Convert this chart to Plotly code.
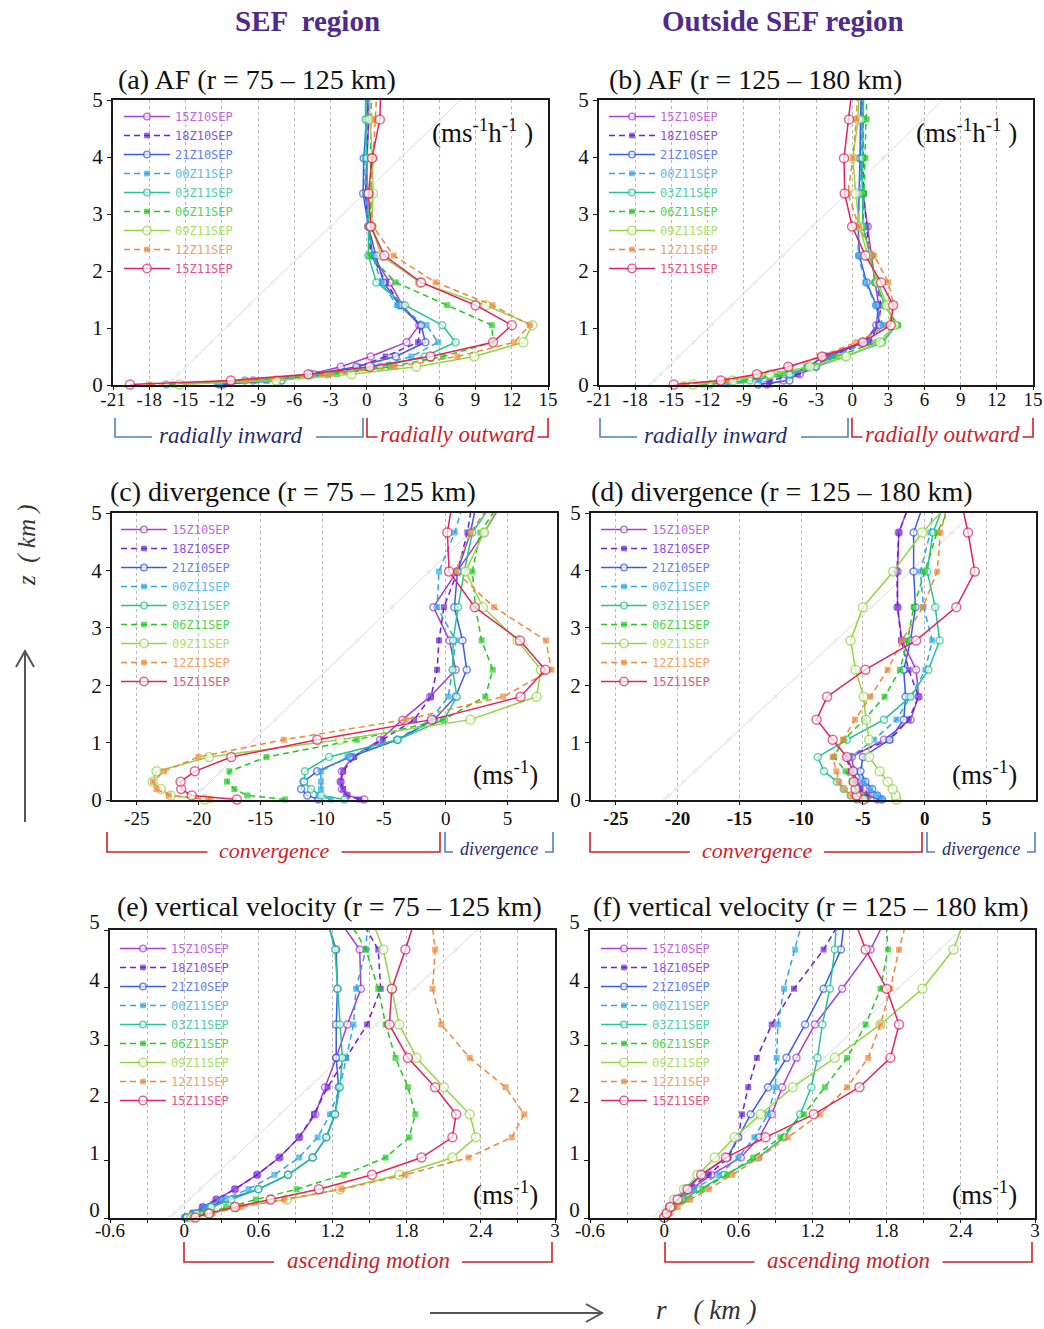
import plotly.graph_objects as go

W, H = 1044, 1329

# model levels (km) shared by every profile
levels = [0.01, 0.08, 0.19, 0.32, 0.5, 0.75, 1.05, 1.4, 1.8, 2.27, 2.78, 3.36, 3.98, 4.66, 5.4]
times = ["15Z10SEP", "18Z10SEP", "21Z10SEP", "00Z11SEP", "03Z11SEP",
         "06Z11SEP", "09Z11SEP", "12Z11SEP", "15Z11SEP"]

# (a) agradient force, r = 75-125 km  (m s-1 h-1)
af_sef = {
    "15Z10SEP": [-11.9, -9.4, -4.7, -2.15, 0.33, 3.3, 4.35, 2.95, 1.9, 0.5, 0.14, -0.08, 0.03, 0.2, 0.3],
    "18Z10SEP": [-11.9, -8.3, -3.9, -0.7, 1.55, 4.25, 4.45, 2.8, 1.6, 0.4, 0.14, -0.1, 0.0, 0.14, 0.3],
    "21Z10SEP": [-12.2, -7.05, -4.4, -0.85, 2.4, 4.85, 4.5, 2.7, 1.4, 0.75, 0.14, -0.3, -0.25, 0.03, 0.25],
    "00Z11SEP": [-12.4, -8.3, -3.6, 0.5, 3.7, 5.9, 4.95, 2.5, 1.2, 0.47, 0.14, -0.14, -0.17, -0.08, 0.0],
    "03Z11SEP": [-16.6, -10.1, -3.3, 1.1, 4.8, 7.35, 6.25, 3.15, 0.8, 0.14, 0.14, 0.1, 0.0, -0.1, -0.1],
    "06Z11SEP": [-16.0, -9.1, -2.5, 1.9, 6.3, 10.45, 10.35, 6.65, 2.4, 0.2, 0.25, 0.36, 0.3, 0.3, 0.4],
    "09Z11SEP": [-15.5, -7.5, -1.27, 4.1, 8.9, 12.95, 13.7, 9.85, 4.4, 1.2, 0.4, 0.52, 0.47, 0.25, 0.2],
    "12Z11SEP": [-18.0, -10.0, -3.1, 2.3, 7.5, 12.2, 13.5, 10.4, 5.7, 2.23, 0.52, 0.3, 0.52, 0.66, 0.9],
    "15Z11SEP": [-19.6, -11.25, -4.83, 0.25, 5.27, 10.45, 12.0, 9.0, 4.5, 1.46, 0.33, 0.14, 0.44, 1.08, 1.2],
}

# (b) agradient force, r = 125-180 km
af_out = {
    "15Z10SEP": [-7.1, -5.7, -4.35, -3.0, -2.0, 1.05, 2.0, 2.2, 1.9, 1.6, 1.3, 0.9, 0.7, 0.7, 0.9],
    "18Z10SEP": [-6.9, -6.8, -4.5, -3.0, -1.9, 1.45, 2.15, 2.4, 2.0, 1.45, 1.2, 0.95, 0.9, 0.85, 0.9],
    "21Z10SEP": [-7.8, -5.2, -5.05, -3.7, -2.3, 0.85, 2.3, 2.0, 1.2, 0.6, 0.5, 0.6, 0.65, 0.7, 0.8],
    "00Z11SEP": [-10.4, -7.7, -5.2, -3.2, -1.6, 1.2, 2.55, 1.95, 1.1, 0.5, 0.5, 0.65, 0.75, 0.8, 0.9],
    "03Z11SEP": [-11.8, -8.5, -5.2, -3.0, -0.55, 2.5, 3.7, 2.7, 2.0, 1.45, 0.9, 0.85, 0.85, 0.9, 1.0],
    "06Z11SEP": [-12.4, -9.0, -6.0, -3.8, -1.3, 2.0, 3.8, 2.7, 1.9, 1.6, 0.9, 1.0, 1.1, 1.2, 1.25],
    "09Z11SEP": [-13.2, -9.9, -6.8, -3.5, -0.5, 2.3, 3.5, 2.85, 2.15, 1.3, 0.6, 0.3, 0.05, 0.5, 0.6],
    "12Z11SEP": [-14.0, -10.4, -7.7, -5.2, -2.7, 0.35, 3.0, 3.45, 3.0, 1.8, 0.55, -0.35, 0.05, 0.35, 0.5],
    "15Z11SEP": [-14.8, -10.9, -7.9, -5.3, -2.5, 0.9, 3.2, 3.4, 2.4, 1.1, 0.0, -0.62, -0.68, -0.26, 0.1],
}

# (c) divergence, r = 75-125 km  (m s-1)
div_sef = {
    "15Z10SEP": [-6.6, -8.0, -8.4, -8.5, -8.4, -7.55, -5.3, -3.5, -1.27, 0.8, 0.3, -1.0, 0.9, 3.1, 5.2],
    "18Z10SEP": [-7.0, -8.0, -8.3, -8.5, -8.3, -7.4, -5.1, -2.55, -1.2, -0.7, -0.55, -0.15, 0.95, 1.75, 2.3],
    "21Z10SEP": [-10.3, -11.2, -11.7, -11.5, -10.4, -7.75, -3.9, -0.95, 0.8, 1.7, 1.35, 0.7, 0.95, 2.0, 2.7],
    "00Z11SEP": [-9.3, -10.3, -10.1, -10.1, -10.1, -7.95, -4.0, -1.2, 0.2, 0.55, 0.8, -0.7, -0.55, 0.73, 1.75],
    "03Z11SEP": [-8.2, -10.1, -10.9, -11.45, -11.4, -9.45, -3.9, -0.15, 0.9, 0.55, 0.6, 1.0, 1.5, 2.15, 4.5],
    "06Z11SEP": [-13.0, -16.05, -17.1, -17.7, -17.5, -14.5, -7.2, -0.2, 3.2, 3.8, 2.9, 2.4, 2.15, 2.8, 5.0],
    "09Z11SEP": [-19.5, -22.25, -23.05, -23.7, -23.4, -19.15, -8.55, 2.0, 7.35, 7.7, 5.8, 3.0, 1.6, 3.1, 5.0],
    "12Z11SEP": [-19.0, -22.4, -23.4, -23.7, -22.8, -20.0, -13.1, -3.25, 4.65, 8.55, 8.1, 3.9, 0.8, 2.0, 4.4],
    "15Z11SEP": [-16.9, -20.55, -21.4, -21.45, -20.3, -17.35, -10.4, -1.13, 6.05, 8.05, 6.0, 2.35, 0.27, 0.13, 0.7],
}

# (d) divergence, r = 125-180 km
div_out = {
    "15Z10SEP": [-3.85, -4.55, -4.95, -5.5, -5.75, -5.9, -3.3, -1.15, -0.5, -0.7, -1.85, -2.2, -2.2, -2.1, -0.8],
    "18Z10SEP": [-3.6, -4.65, -5.2, -5.6, -6.0, -6.35, -2.8, -1.3, -0.5, -1.3, -1.9, -2.2, -2.25, -2.1, -0.8],
    "21Z10SEP": [-3.45, -3.85, -4.25, -4.8, -5.2, -5.0, -2.85, -1.7, -1.55, -1.7, -1.15, -0.75, -0.9, -0.9, 0.3],
    "00Z11SEP": [-3.45, -3.85, -4.4, -4.95, -5.6, -6.0, -4.1, -2.3, -1.15, 0.05, 0.6, -0.1, -0.35, 0.45, 0.8],
    "03Z11SEP": [-5.5, -6.0, -6.55, -7.1, -8.15, -8.65, -6.3, -3.3, -1.15, 0.3, 1.2, 0.85, 0.2, 0.67, 2.0],
    "06Z11SEP": [-4.65, -5.05, -5.5, -5.9, -6.4, -7.35, -6.55, -4.9, -3.25, -2.0, -1.4, -0.9, 0.0, 1.0, 2.75],
    "09Z11SEP": [-2.3, -2.35, -2.6, -3.0, -3.65, -4.5, -4.5, -4.75, -4.95, -5.6, -6.0, -5.0, -2.55, -0.2, 3.0],
    "12Z11SEP": [-5.5, -6.0, -6.55, -6.95, -7.15, -7.45, -6.6, -5.65, -4.4, -3.0, -1.85, -0.15, 1.0, 1.27, 2.14],
    "15Z11SEP": [-4.95, -5.5, -5.6, -5.75, -5.8, -6.3, -7.45, -8.75, -7.9, -4.8, -0.7, 2.55, 4.05, 3.5, 2.74],
}

# (e) vertical velocity, r = 75-125 km  (m s-1)
w_sef = {
    "15Z10SEP": [0.01, 0.07, 0.15, 0.26, 0.41, 0.59, 0.77, 0.93, 1.06, 1.14, 1.23, 1.32, 1.43, 1.42, 1.18],
    "18Z10SEP": [0.005, 0.07, 0.15, 0.26, 0.41, 0.59, 0.77, 0.93, 1.05, 1.16, 1.31, 1.48, 1.59, 1.57, 1.37],
    "21Z10SEP": [0.02, 0.1, 0.21, 0.34, 0.6, 0.84, 1.04, 1.15, 1.22, 1.25, 1.23, 1.23, 1.24, 1.23, 1.12],
    "00Z11SEP": [0.01, 0.07, 0.17, 0.31, 0.52, 0.73, 0.93, 1.08, 1.18, 1.26, 1.31, 1.37, 1.39, 1.47, 1.49],
    "03Z11SEP": [0.02, 0.1, 0.22, 0.38, 0.6, 0.84, 1.04, 1.15, 1.22, 1.26, 1.28, 1.26, 1.24, 1.22, 1.13],
    "06Z11SEP": [0.05, 0.17, 0.34, 0.58, 0.91, 1.29, 1.63, 1.82, 1.87, 1.81, 1.71, 1.63, 1.57, 1.47, 1.27],
    "09Z11SEP": [0.06, 0.21, 0.42, 0.83, 1.26, 1.74, 2.17, 2.36, 2.31, 2.1, 1.88, 1.74, 1.68, 1.61, 1.48],
    "12Z11SEP": [0.07, 0.23, 0.46, 0.81, 1.27, 1.79, 2.3, 2.65, 2.75, 2.6, 2.31, 2.08, 2.01, 2.03, 1.99],
    "15Z11SEP": [0.09, 0.2, 0.41, 0.7, 1.09, 1.52, 1.92, 2.17, 2.2, 2.03, 1.81, 1.66, 1.68, 1.79, 1.9],
}

# (f) vertical velocity, r = 125-180 km
w_out = {
    "15Z10SEP": [0.0, 0.03, 0.06, 0.13, 0.22, 0.38, 0.62, 0.77, 0.87, 0.955, 1.07, 1.22, 1.44, 1.67, 1.84],
    "18Z10SEP": [0.0, 0.02, 0.05, 0.1, 0.19, 0.36, 0.52, 0.6, 0.63, 0.68, 0.75, 0.87, 1.05, 1.29, 1.49],
    "21Z10SEP": [0.0, 0.02, 0.04, 0.09, 0.17, 0.3, 0.51, 0.6, 0.7, 0.84, 0.99, 1.14, 1.29, 1.43, 1.47],
    "00Z11SEP": [0.0, 0.02, 0.05, 0.13, 0.24, 0.44, 0.6, 0.73, 0.84, 0.9, 0.91, 0.92, 0.97, 1.06, 1.15],
    "03Z11SEP": [0.0, 0.03, 0.07, 0.15, 0.29, 0.49, 0.76, 0.97, 1.1, 1.19, 1.24, 1.28, 1.34, 1.38, 1.4],
    "06Z11SEP": [0.0, 0.03, 0.09, 0.18, 0.31, 0.51, 0.72, 0.94, 1.13, 1.3, 1.48, 1.63, 1.75, 1.81, 1.79],
    "09Z11SEP": [0.0, 0.02, 0.05, 0.08, 0.16, 0.27, 0.41, 0.57, 0.78, 1.04, 1.38, 1.75, 2.09, 2.34, 2.47],
    "12Z11SEP": [0.01, 0.05, 0.11, 0.21, 0.36, 0.55, 0.77, 1.0, 1.26, 1.48, 1.65, 1.75, 1.83, 1.9, 1.99],
    "15Z11SEP": [0.0, 0.02, 0.05, 0.11, 0.19, 0.3, 0.5, 0.82, 1.21, 1.58, 1.83, 1.9, 1.8, 1.63, 1.5],
}

# faint background reference profile in each panel
ref_af_sef = [-16.45, -16.1, -15.6, -14.95, -14.1, -12.9, -11.4, -9.7, -7.8, -5.5, -3.0, -0.2, 2.8, 6.1, 9.7]
ref_af_out = [-16.75, -16.4, -15.9, -15.25, -14.4, -13.15, -11.7, -10.0, -8.05, -5.75, -3.3, -0.45, 2.55, 5.85, 9.45]
ref_div_sef = [-20.55, -20.2, -19.7, -19.05, -18.2, -16.95, -15.5, -13.8, -11.9, -9.6, -7.15, -4.35, -1.35, 1.95, 5.55]
ref_div_out = [-21.05, -20.7, -20.15, -19.5, -18.6, -17.35, -15.85, -14.1, -12.1, -9.75, -7.2, -4.3, -1.2, 2.2, 5.9]
ref_w_sef = [-0.115, -0.08, -0.025, 0.04, 0.13, 0.255, 0.405, 0.58, 0.775, 1.01, 1.265, 1.555, 1.86, 2.2, 2.57]
ref_w_out = [-0.085, -0.05, 0.005, 0.07, 0.16, 0.285, 0.435, 0.61, 0.805, 1.04, 1.295, 1.585, 1.89, 2.23, 2.6]

# tick values / labels
af_ticks = [-21, -18, -15, -12, -9, -6, -3, 0, 3, 6, 9, 12, 15]
af_ticklabels = ["-21", "-18", "-15", "-12", "-9", "-6", "-3", "0", "3", "6", "9", "12", "15"]
div_ticks = [-25, -20, -15, -10, -5, 0, 5]
div_ticklabels = ["-25", "-20", "-15", "-10", "-5", "0", "5"]
w_ticks = [-0.6, 0, 0.6, 1.2, 1.8, 2.4, 3]
w_ticklabels = ["-0.6", "0", "0.6", "1.2", "1.8", "2.4", "3"]
z_ticks = [0, 1, 2, 3, 4, 5]

# ---------------------------------------------------------------- styling
colors = ["#a63fd2", "#6c22d6", "#3a5ae8", "#2ea6e8", "#26c290",
          "#22c922", "#93d645", "#f0883a", "#e0245f"]
dashed = [False, True, False, True, False, True, False, True, False]
circle_size = [7, 7, 7, 7, 7, 7, 9, 7, 9]
SERIF = "Liberation Serif"


def lighten(hex_color, f=0.25):
    r, g, b = (int(hex_color[i:i + 2], 16) for i in (1, 3, 5))
    r, g, b = (round(c + (255 - c) * f) for c in (r, g, b))
    return f"#{r:02x}{g:02x}{b:02x}"


def px(x):
    """pixel column -> paper fraction"""
    return x / W


def py(y):
    """pixel row -> paper fraction"""
    return 1 - y / H


fig = go.Figure()

panels = [
    dict(data=af_sef, ref=ref_af_sef, box=(113, 100, 548, 385), xr=[-21, 15],
         ticks=af_ticks, labels=af_ticklabels, minor=None, bold=False, standoff=-7, yshift=0,
         title="(a) AF (r = 75 – 125 km)", tpos=(116, 80), leg=(119, 102),
         unit="(ms<sup>-1</sup>h<sup>-1</sup> )", upos=(482, 131)),
    dict(data=af_out, ref=ref_af_out, box=(599, 100, 1033, 385), xr=[-21, 15],
         ticks=af_ticks, labels=af_ticklabels, minor=None, bold=False, standoff=-7, yshift=0,
         title="(b) AF (r = 125 – 180 km)", tpos=(607, 80), leg=(604, 102),
         unit="(ms<sup>-1</sup>h<sup>-1</sup> )", upos=(966, 131)),
    dict(data=div_sef, ref=ref_div_sef, box=(112, 513, 557, 800), xr=[-27, 9],
         ticks=div_ticks, labels=div_ticklabels, minor=None, bold=False, standoff=-3, yshift=0,
         title="(c) divergence (r = 75 – 125 km)", tpos=(108, 491), leg=(116, 515),
         unit="(ms<sup>-1</sup>)", upos=(505, 773)),
    dict(data=div_out, ref=ref_div_out, box=(591, 513, 1036, 800), xr=[-27, 9],
         ticks=div_ticks, labels=div_ticklabels, minor=None, bold=True, standoff=-3, yshift=0,
         title="(d) divergence (r = 125 – 180 km)", tpos=(589, 491), leg=(596, 515),
         unit="(ms<sup>-1</sup>)", upos=(984, 773)),
    dict(data=w_sef, ref=ref_w_sef, box=(110, 930, 555, 1218), xr=[-0.6, 3],
         ticks=w_ticks, labels=w_ticklabels, minor=0.3, bold=False, standoff=-9, yshift=-8,
         title="(e) vertical velocity (r = 75 – 125 km)", tpos=(115, 907), leg=(115, 934),
         unit="(ms<sup>-1</sup>)", upos=(505, 1193)),
    dict(data=w_out, ref=ref_w_out, box=(590, 930, 1035, 1218), xr=[-0.6, 3],
         ticks=w_ticks, labels=w_ticklabels, minor=0.3, bold=False, standoff=-9, yshift=-8,
         title="(f) vertical velocity (r = 125 – 180 km)", tpos=(591, 907), leg=(596, 934),
         unit="(ms<sup>-1</sup>)", upos=(984, 1193)),
]

annotations = []
layout_axes = {}

for i, p in enumerate(panels, start=1):
    sfx = "" if i == 1 else str(i)
    xa, ya = f"x{sfx}", f"y{sfx}"
    legend_id = "legend" if i == 1 else f"legend{i}"
    x0, y0, x1, y1 = p["box"]

    # faint reference profile
    fig.add_trace(go.Scatter(
        x=p["ref"], y=levels, xaxis=xa, yaxis=ya, mode="lines+markers",
        line=dict(color="#dcdcdc", width=1),
        marker=dict(symbol="circle", size=[3] * (len(levels) - 1) + [0], color="white",
                    line=dict(color="#d0d0d0", width=0.8)),
        showlegend=False, hoverinfo="skip", cliponaxis=False))

    for k, t in enumerate(times):
        c = colors[k]
        n = len(levels)
        if dashed[k]:
            marker = dict(symbol="square", size=[6] * (n - 1) + [0], color=c,
                          line=dict(width=0))
            line = dict(color=c, width=1.5, dash="6px,4px")
        else:
            marker = dict(symbol="circle", size=[circle_size[k]] * (n - 1) + [0],
                          color="white", line=dict(color=c, width=1.5))
            line = dict(color=c, width=1.5)
        fig.add_trace(go.Scatter(
            x=p["data"][t], y=levels, xaxis=xa, yaxis=ya, mode="lines+markers",
            name=f"<span style='color:{lighten(c, 0.22)}'>{t}</span>",
            line=line, marker=marker, legend=legend_id, cliponaxis=False))

    xaxis = dict(
        domain=[px(x0), px(x1)], anchor=ya, range=p["xr"],
        tickmode="array", tickvals=p["ticks"], ticktext=p["labels"],
        showline=True, linecolor="#1a1a1a", linewidth=2, mirror=True,
        ticks="outside", ticklen=3, tickcolor="#1a1a1a",
        ticklabelstandoff=p["standoff"],
        showgrid=True, gridcolor="#b8b8b8", griddash="dot", gridwidth=1,
        zeroline=False, fixedrange=True, automargin=False,
        tickfont=dict(family=SERIF, size=19, color="#111",
                      weight="bold" if p["bold"] else "normal"),
    )
    if p["minor"]:
        xaxis["minor"] = dict(dtick=p["minor"], tick0=0, showgrid=True, gridcolor="#b8b8b8",
                              griddash="dot", ticks="outside", ticklen=3, tickcolor="#1a1a1a")
    yaxis = dict(
        domain=[py(y1), py(y0)], anchor=xa, range=[0, 5],
        tickmode="array", tickvals=z_ticks,
        showline=True, linecolor="#1a1a1a", linewidth=2, mirror=True,
        ticks="outside", ticklen=4, tickcolor="#1a1a1a",
        ticklabelshift=p["yshift"],
        showgrid=False, zeroline=False, fixedrange=True, automargin=False,
        tickfont=dict(family=SERIF, size=21, color="#111"),
    )
    layout_axes[f"xaxis{sfx}"] = xaxis
    layout_axes[f"yaxis{sfx}"] = yaxis

    lx, ly = p["leg"]
    layout_axes[legend_id] = dict(
        x=px(lx), y=py(ly), xanchor="left", yanchor="top",
        bgcolor="rgba(0,0,0,0)", borderwidth=0, itemwidth=46,
        font=dict(family="DejaVu Sans Mono", size=12, color="#888"),
        tracegroupgap=0,
    )

    tx, ty = p["tpos"]
    annotations.append(dict(text=p["title"], x=px(tx), y=py(ty), xref="paper", yref="paper",
                            xanchor="left", yanchor="middle", showarrow=False,
                            font=dict(family=SERIF, size=28, color="#111")))
    ux, uy = p["upos"]
    annotations.append(dict(text=p["unit"], x=px(ux), y=py(uy), xref="paper", yref="paper",
                            xanchor="center", yanchor="middle", showarrow=False,
                            font=dict(family=SERIF, size=27, color="#111")))

# column headers
for text, cx in (("SEF  region", 307), ("Outside SEF region", 783)):
    annotations.append(dict(text=f"<b>{text}</b>", x=px(cx), y=py(21), xref="paper", yref="paper",
                            showarrow=False, xanchor="center", yanchor="middle",
                            font=dict(family=SERIF, size=29, color="#4e2a8c")))

BLUE_LINE, BLUE_TEXT = "#4f7fc4", "#1f2c6c"
RED = "#cc2229"
shapes = []


def bracket(xl, xr, ytop, ybot, gap_l, gap_r, color, width=1.6):
    path = (f"M {px(xl)},{py(ytop)} L {px(xl)},{py(ybot)} L {px(gap_l)},{py(ybot)} "
            f"M {px(gap_r)},{py(ybot)} L {px(xr)},{py(ybot)} L {px(xr)},{py(ytop)}")
    shapes.append(dict(type="path", path=path, xref="paper", yref="paper",
                       line=dict(color=color, width=width)))


def label(text, cx, cy, color, size):
    annotations.append(dict(text=f"<i>{text}</i>", x=px(cx), y=py(cy), xref="paper", yref="paper",
                            showarrow=False, xanchor="center", yanchor="middle",
                            font=dict(family=SERIF, size=size, color=color)))


# AF brackets
for left, zero, right in ((115, 365, 548), (600, 850, 1033)):
    c_in = left + 115
    bracket(left, zero - 2, 418, 437, c_in - 78, c_in + 86, BLUE_LINE)
    label("radially inward", c_in, 435, BLUE_TEXT, 23)
    mid_out = (zero + 2 + right) / 2
    bracket(zero + 2, right, 418, 437, mid_out - 80, mid_out + 80, RED)
    label("radially outward", mid_out, 434, RED, 23)

# divergence brackets
for left, zero, right in ((107, 442, 553), (590, 924, 1035)):
    mid_c = (left + zero) / 2
    bracket(left, zero - 2, 832, 852, mid_c - 67, mid_c + 67, RED)
    label("convergence", mid_c, 850, RED, 22)
    mid_d = (zero + 3 + right) / 2
    bracket(zero + 3, right, 832, 852, mid_d - 46, mid_d + 46, BLUE_LINE)
    label("divergence", mid_d, 849, BLUE_TEXT, 18)

# vertical-velocity brackets
for left, right in ((184, 552), (665, 1032)):
    mid = (left + right) / 2
    bracket(left, right, 1242, 1262, mid - 94, mid + 94, RED)
    label("ascending motion", mid, 1260, RED, 23)

# axis arrows
ARROW = "#555555"
shapes.append(dict(type="path", xref="paper", yref="paper", line=dict(color=ARROW, width=2),
                   path=(f"M {px(25)},{py(822)} L {px(25)},{py(651)} "
                         f"M {px(16)},{py(667)} L {px(25)},{py(651)} L {px(34)},{py(667)}")))
shapes.append(dict(type="path", xref="paper", yref="paper", line=dict(color=ARROW, width=2),
                   path=(f"M {px(430)},{py(1313)} L {px(602)},{py(1313)} "
                         f"M {px(586)},{py(1304)} L {px(602)},{py(1313)} L {px(586)},{py(1322)}")))
annotations.append(dict(text="<i>z  ( km )</i>", x=px(27), y=py(545), xref="paper", yref="paper",
                        showarrow=False, textangle=-90, xanchor="center", yanchor="middle",
                        font=dict(family=SERIF, size=25, color="#333")))
annotations.append(dict(text="<i>r    ( km )</i>", x=px(706), y=py(1310), xref="paper", yref="paper",
                        showarrow=False, xanchor="center", yanchor="middle",
                        font=dict(family=SERIF, size=27, color="#333")))

# margins are fixed at zero so paper coordinates span the whole canvas
fig.update_layout(
    width=W, height=H, margin=dict(l=0, r=0, t=0, b=0, pad=0, autoexpand=False),
    paper_bgcolor="white", plot_bgcolor="white",
    annotations=annotations, shapes=shapes,
    **layout_axes,
)

fig.write_html("out.html")
